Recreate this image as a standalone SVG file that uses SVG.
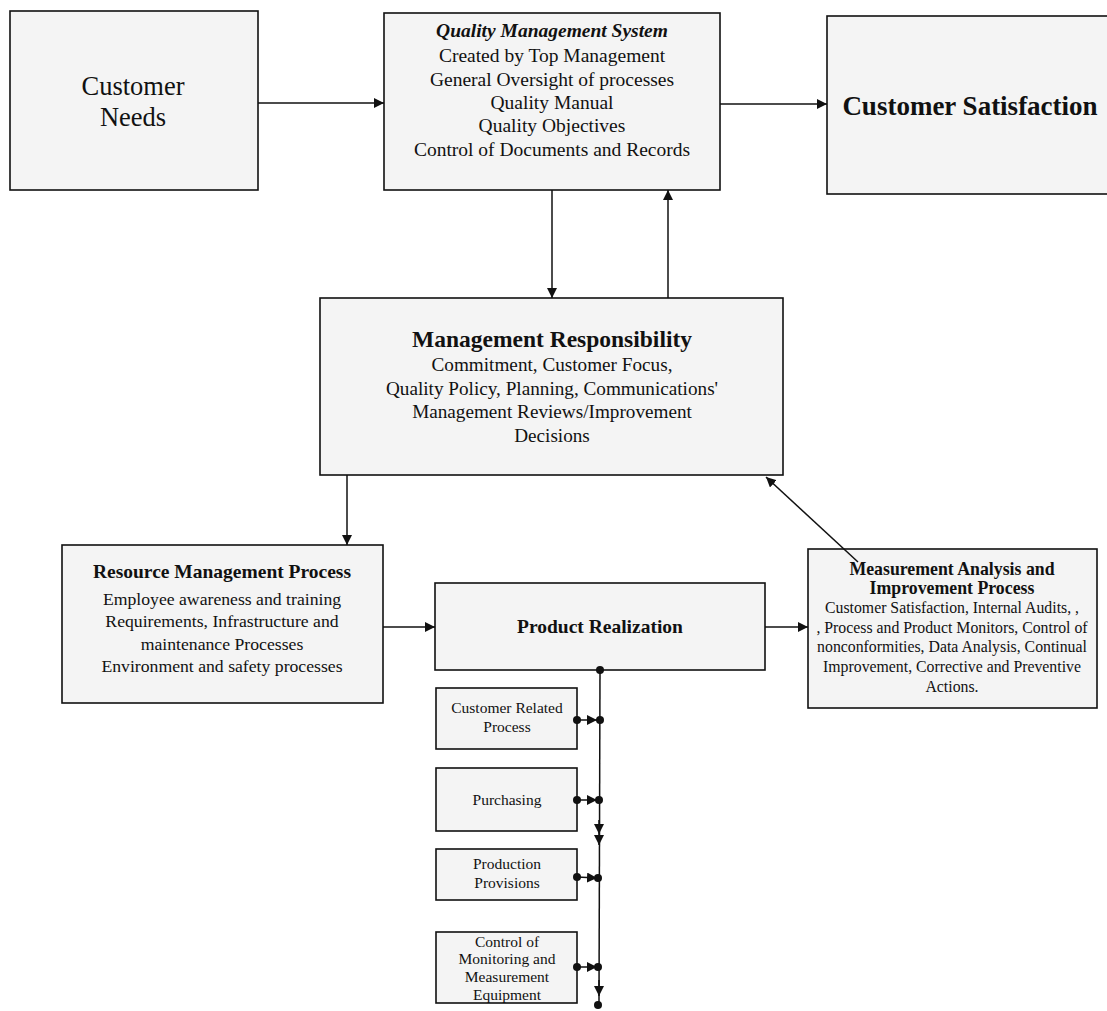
<svg xmlns="http://www.w3.org/2000/svg" width="1107" height="1011" viewBox="0 0 1107 1011">
<style>
.box{fill:#f4f4f4;stroke:#111;stroke-width:1.6}
text{font-family:"Liberation Serif","Times New Roman",serif;fill:#111;text-anchor:middle}
.b{font-weight:bold}
.s{font-size:15.5px}
.c line,.c path{stroke:#111;stroke-width:1.5;fill:none}
.dot{fill:#111}
</style>
<defs>
<marker id="ah" viewBox="0 0 10 10" refX="10" refY="5" markerWidth="10" markerHeight="10" markerUnits="userSpaceOnUse" orient="auto"><path d="M0,0 L10,5 L0,10 z" fill="#111"/></marker>
</defs>
<rect width="1107" height="1011" fill="#fff"/>
<g id="customer-needs"><rect class="box" x="10" y="11" width="248" height="179"/>
<text x="133" y="95" font-size="26.5">Customer</text><text x="133" y="126" font-size="26.5">Needs</text></g>
<g id="qms"><rect class="box" x="384" y="13" width="336" height="177"/>
<text x="552" y="37" font-size="19.5" class="b" font-style="italic">Quality Management System</text>
<text x="552" y="62" font-size="19.5">Created by Top Management</text>
<text x="552" y="86" font-size="19.5">General Oversight of  processes</text>
<text x="552" y="109" font-size="19.5">Quality Manual</text>
<text x="552" y="132" font-size="19.5">Quality Objectives</text>
<text x="552" y="156" font-size="19.5">Control of Documents and Records</text></g>
<g id="customer-satisfaction"><rect class="box" x="827" y="16" width="290" height="178"/>
<text x="970" y="115" font-size="27" class="b">Customer Satisfaction</text></g>
<g id="mgmt-resp"><rect class="box" x="320" y="298" width="463" height="177"/>
<text x="552" y="347" font-size="23.5" class="b">Management Responsibility</text>
<text x="552" y="371" font-size="19.2">Commitment, Customer Focus,</text>
<text x="552" y="395" font-size="19.2">Quality Policy, Planning, Communications'</text>
<text x="552" y="418" font-size="19.2">Management Reviews/Improvement</text>
<text x="552" y="442" font-size="19.2">Decisions</text></g>
<g id="resource-mgmt"><rect class="box" x="62" y="545" width="321" height="158"/>
<text x="222" y="578" font-size="19.5" class="b">Resource Management Process</text>
<text x="222" y="605" font-size="17.7">Employee awareness and training</text>
<text x="222" y="627" font-size="17.7">Requirements, Infrastructure and</text>
<text x="222" y="650" font-size="17.7">maintenance Processes</text>
<text x="222" y="672" font-size="17.7">Environment and safety processes</text></g>
<g id="product-realization"><rect class="box" x="435" y="583" width="330" height="87"/>
<text x="600" y="633" font-size="19.5" class="b">Product Realization</text></g>
<g id="measurement"><rect class="box" x="808" y="549" width="289" height="159"/>
<text x="952" y="575" font-size="17.8" class="b">Measurement Analysis and</text>
<text x="952" y="594" font-size="17.8" class="b">Improvement Process</text>
<text x="952" y="613" font-size="15.8">Customer Satisfaction, Internal Audits, ,</text>
<text x="952" y="633" font-size="15.8">, Process  and Product Monitors, Control of</text>
<text x="952" y="652" font-size="15.8">nonconformities, Data Analysis, Continual</text>
<text x="952" y="672" font-size="15.8">Improvement, Corrective and Preventive</text>
<text x="952" y="692" font-size="15.8">Actions.</text></g>
<g id="customer-related"><rect class="box" x="436" y="688" width="141" height="61"/>
<text class="s" x="507" y="713">Customer Related</text><text class="s" x="507" y="732">Process</text></g>
<g id="purchasing"><rect class="box" x="436" y="768" width="141" height="63"/>
<text class="s" x="507" y="805">Purchasing</text></g>
<g id="production"><rect class="box" x="436" y="849" width="141" height="51"/>
<text class="s" x="507" y="869">Production</text><text class="s" x="507" y="888">Provisions</text></g>
<g id="control"><rect class="box" x="436" y="932" width="141" height="71"/>
<text class="s" x="507" y="947">Control of</text><text class="s" x="507" y="964">Monitoring and</text>
<text class="s" x="507" y="982">Measurement</text><text class="s" x="507" y="1000">Equipment</text></g>
<g id="connectors" class="c">
<line x1="258" y1="103" x2="384" y2="103" marker-end="url(#ah)"/>
<line x1="720" y1="104" x2="827" y2="104" marker-end="url(#ah)"/>
<line x1="552" y1="190" x2="552" y2="298" marker-end="url(#ah)"/>
<line x1="668" y1="298" x2="668" y2="190" marker-end="url(#ah)"/>
<line x1="347" y1="475" x2="347" y2="545" marker-end="url(#ah)"/>
<line x1="383" y1="627" x2="435" y2="627" marker-end="url(#ah)"/>
<line x1="765" y1="627" x2="808" y2="627" marker-end="url(#ah)"/>
<line x1="858" y1="562" x2="766" y2="477" marker-end="url(#ah)"/>
<line x1="600" y1="670" x2="599" y2="1004"/>
<line x1="577" y1="720" x2="597" y2="720" marker-end="url(#ah)"/>
<line x1="577" y1="800" x2="597" y2="800" marker-end="url(#ah)"/>
<line x1="577" y1="877" x2="597" y2="878" marker-end="url(#ah)"/>
<line x1="577" y1="967" x2="597" y2="967" marker-end="url(#ah)"/>
<line x1="599" y1="820" x2="599" y2="834" marker-end="url(#ah)"/>
<line x1="599" y1="834" x2="599" y2="845" marker-end="url(#ah)"/>
<line x1="599" y1="980" x2="599" y2="996" marker-end="url(#ah)"/>
<circle class="dot" cx="600" cy="670" r="4"/>
<circle class="dot" cx="600" cy="720" r="4"/><circle class="dot" cx="577" cy="720" r="4"/>
<circle class="dot" cx="599" cy="800" r="4"/><circle class="dot" cx="577" cy="800" r="4"/>
<circle class="dot" cx="598" cy="878" r="4"/><circle class="dot" cx="577" cy="877" r="4"/>
<circle class="dot" cx="598" cy="967" r="4"/><circle class="dot" cx="577" cy="967" r="4"/>
<circle class="dot" cx="598" cy="1005" r="4"/>
</g>
</svg>
